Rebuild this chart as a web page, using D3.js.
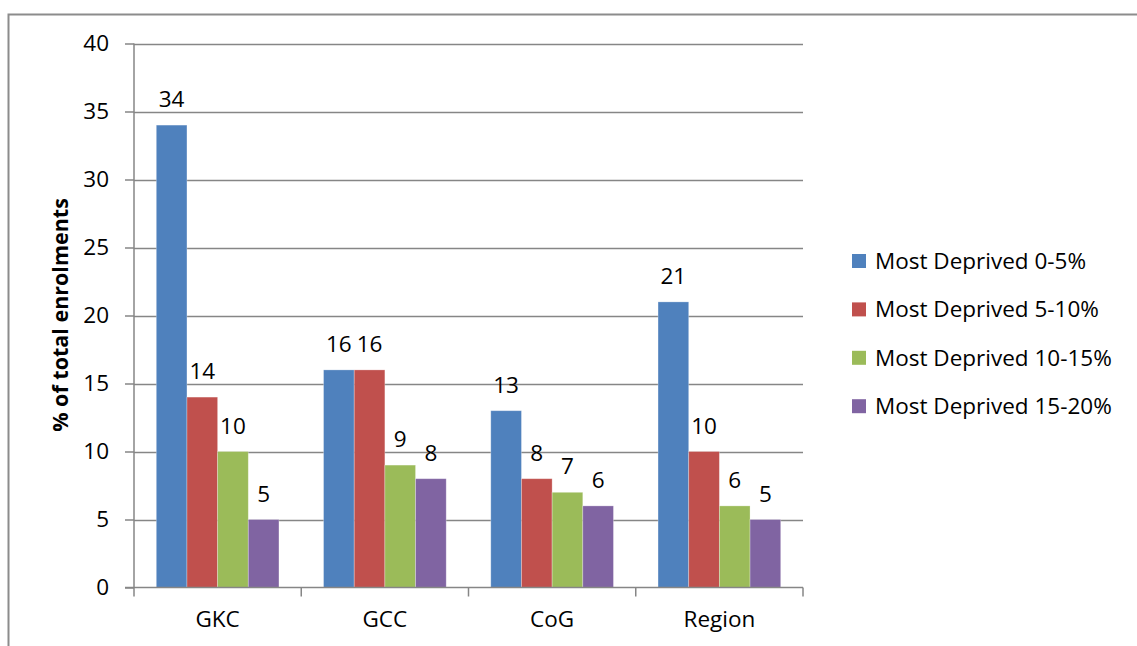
<!DOCTYPE html>
<html><head><meta charset="utf-8">
<script src="https://cdn.jsdelivr.net/npm/d3@7"></script>
<style>
html,body{margin:0;padding:0;background:#fff;}
svg text{font-family:"Open Sans", Lato, sans-serif; fill:#000;}
</style></head>
<body><svg id="c" width="1137" height="646"></svg>
<script>
const categories = ["GKC","GCC","CoG","Region"];
const seriesNames = ["Most Deprived 0-5%","Most Deprived 5-10%","Most Deprived 10-15%","Most Deprived 15-20%"];
const s0 = [34,16,13,21];
const s1 = [14,16,8,10];
const s2 = [10,9,7,6];
const s3 = [5,8,6,5];
const seriesValues = [s0,s1,s2,s3];
const colors = ["#4F81BD","#C0504D","#9BBB59","#8064A2"];
const yTicks = [0,5,10,15,20,25,30,35,40];
const yTitle = "% of total enrolments";

(function(){
const FS = 22.5;
const svg = d3.select("#c");
svg.append("rect").attr("x",8.5).attr("y",14.5).attr("width",1140).attr("height",700)
  .attr("fill","none").attr("stroke","#8c8c8c").attr("stroke-width",2);

const pL=134, pR=803, pT=43.5, pB=587.5;
const x = d3.scaleBand().domain(categories).range([pL,pR]).paddingInner(0).paddingOuter(0);
const y = d3.scaleLinear().domain([0,40]).range([pB,pT]);
const inner = d3.scaleBand().domain(d3.range(seriesNames.length)).range([0,x.bandwidth()]).paddingInner(0).paddingOuter(0.727);

svg.append("g").selectAll("line").data(yTicks.filter(d=>d>0)).join("line")
  .attr("x1",pL).attr("x2",pR).attr("y1",d=>Math.round(y(d))+0.5).attr("y2",d=>Math.round(y(d))+0.5)
  .attr("stroke","#868686").attr("stroke-width",1.5);

const g = svg.append("g");
seriesValues.forEach((vals,si)=>{
  g.selectAll(null).data(vals).join("rect")
    .attr("x",(d,i)=>x(categories[i])+inner(si))
    .attr("width",inner.bandwidth())
    .attr("y",d=>y(d)).attr("height",d=>y(0)-y(d))
    .attr("fill",colors[si]).attr("stroke","rgba(255,255,255,0.35)").attr("stroke-width",0.8);
  g.selectAll(null).data(vals).join("text")
    .attr("x",(d,i)=>x(categories[i])+inner(si)+inner.bandwidth()/2)
    .attr("y",d=>y(d)-18)
    .attr("text-anchor","middle").attr("font-size",FS).text(d=>d);
});

const yAxis = d3.axisLeft(y).tickValues(yTicks).tickSize(9).tickPadding(16);
const ya = svg.append("g").attr("transform",`translate(${pL},0)`).call(yAxis);
ya.select(".domain").attr("stroke","#868686").attr("stroke-width",1.5).attr("d",`M0,${pT}V${pB}`);
ya.selectAll(".tick line").attr("stroke","#868686").attr("stroke-width",1.5);
ya.selectAll(".tick text").attr("font-size",FS).attr("font-family","Open Sans").attr("fill","#000");

const xAxis = d3.axisBottom(x).tickSize(0).tickPadding(24);
const xa = svg.append("g").attr("transform",`translate(0,${pB})`).call(xAxis);
xa.select(".domain").remove();
xa.append("line").attr("x1",pL-9).attr("x2",pR).attr("y1",0).attr("y2",0).attr("stroke","#868686").attr("stroke-width",1.5);
xa.selectAll(".sep").data(d3.range(categories.length+1)).join("line")
  .attr("x1",i=>pL+i*x.bandwidth()).attr("x2",i=>pL+i*x.bandwidth())
  .attr("y1",0).attr("y2",9).attr("stroke","#868686").attr("stroke-width",1.5);
xa.selectAll(".tick text").attr("font-size",FS).attr("font-family","Open Sans").attr("fill","#000");

svg.append("text").attr("transform","translate(68,315) rotate(-90)")
  .attr("text-anchor","middle").attr("font-size",21.5).attr("font-weight","bold").text(yTitle);

const lg = svg.append("g").attr("transform","translate(852,261)");
seriesNames.forEach((n,i)=>{
  const r = lg.append("g").attr("transform",`translate(0,${i*48.4})`);
  r.append("rect").attr("x",0).attr("y",-7).attr("width",14).attr("height",14).attr("fill",colors[i]);
  r.append("text").attr("x",23).attr("y",8).attr("font-size",FS).text(n);
});
})();
</script></body></html>
